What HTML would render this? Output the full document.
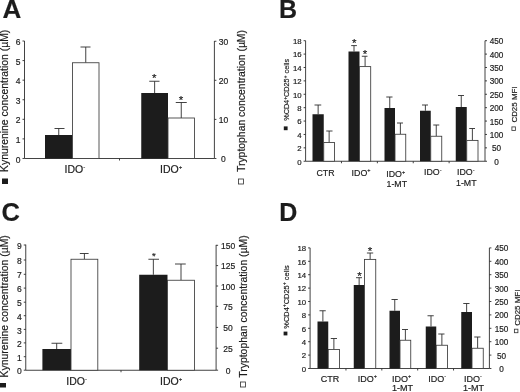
<!DOCTYPE html>
<html><head><meta charset="utf-8"><title>Figure</title>
<style>
html,body{margin:0;padding:0;background:#fff;}
body{width:520px;height:392px;overflow:hidden;}
svg{display:block;filter:grayscale(1);font-family:"Liberation Sans",sans-serif;fill:#1c1c1c;}
text{stroke:#1c1c1c;stroke-width:0.18px;}
</style></head><body>
<svg width="520" height="392" viewBox="0 0 520 392">
<rect x="0" y="0" width="520" height="392" fill="#fff"/>
<text x="2.6" y="17.8" font-size="26" text-anchor="start" font-weight="bold">A</text>
<line x1="24.5" y1="41" x2="24.5" y2="158.5" stroke="#2e2e2e" stroke-width="0.9"/>
<line x1="22.5" y1="41.0" x2="24.5" y2="41.0" stroke="#2e2e2e" stroke-width="0.9"/>
<text x="20.5" y="45.160000000000004" font-size="8.5" text-anchor="end" font-weight="normal">6</text>
<line x1="22.5" y1="60.58" x2="24.5" y2="60.58" stroke="#2e2e2e" stroke-width="0.9"/>
<text x="20.5" y="64.74" font-size="8.5" text-anchor="end" font-weight="normal">5</text>
<line x1="22.5" y1="80.16" x2="24.5" y2="80.16" stroke="#2e2e2e" stroke-width="0.9"/>
<text x="20.5" y="84.32" font-size="8.5" text-anchor="end" font-weight="normal">4</text>
<line x1="22.5" y1="99.74" x2="24.5" y2="99.74" stroke="#2e2e2e" stroke-width="0.9"/>
<text x="20.5" y="103.89999999999999" font-size="8.5" text-anchor="end" font-weight="normal">3</text>
<line x1="22.5" y1="119.32" x2="24.5" y2="119.32" stroke="#2e2e2e" stroke-width="0.9"/>
<text x="20.5" y="123.47999999999999" font-size="8.5" text-anchor="end" font-weight="normal">2</text>
<line x1="22.5" y1="138.89999999999998" x2="24.5" y2="138.89999999999998" stroke="#2e2e2e" stroke-width="0.9"/>
<text x="20.5" y="143.05999999999997" font-size="8.5" text-anchor="end" font-weight="normal">1</text>
<line x1="22.5" y1="158.48" x2="24.5" y2="158.48" stroke="#2e2e2e" stroke-width="0.9"/>
<text x="20.5" y="162.64" font-size="8.5" text-anchor="end" font-weight="normal">0</text>
<line x1="214.4" y1="41" x2="214.4" y2="158.5" stroke="#2e2e2e" stroke-width="0.9"/>
<line x1="214.4" y1="41.25" x2="216.4" y2="41.25" stroke="#2e2e2e" stroke-width="0.9"/>
<text x="223.4" y="44.910000000000004" font-size="8.5" text-anchor="middle" font-weight="normal">30</text>
<line x1="214.4" y1="80.3" x2="216.4" y2="80.3" stroke="#2e2e2e" stroke-width="0.9"/>
<text x="223.4" y="83.96" font-size="8.5" text-anchor="middle" font-weight="normal">20</text>
<line x1="214.4" y1="119.4" x2="216.4" y2="119.4" stroke="#2e2e2e" stroke-width="0.9"/>
<text x="223.4" y="123.06" font-size="8.5" text-anchor="middle" font-weight="normal">10</text>
<line x1="214.4" y1="158.5" x2="216.4" y2="158.5" stroke="#2e2e2e" stroke-width="0.9"/>
<text x="223.4" y="162.16" font-size="8.5" text-anchor="middle" font-weight="normal">0</text>
<line x1="24.5" y1="158.5" x2="214.4" y2="158.5" stroke="#2e2e2e" stroke-width="0.9"/>
<line x1="119.5" y1="158.5" x2="119.5" y2="160.5" stroke="#2e2e2e" stroke-width="0.9"/>
<line x1="58.75" y1="128.5" x2="58.75" y2="135" stroke="#2e2e2e" stroke-width="0.9"/>
<line x1="54.5" y1="128.5" x2="64.5" y2="128.5" stroke="#2e2e2e" stroke-width="0.9"/>
<rect x="45" y="135" width="27.5" height="23.5" fill="#1c1c1c"/>
<line x1="85.75" y1="47" x2="85.75" y2="62.75" stroke="#2e2e2e" stroke-width="0.9"/>
<line x1="80.5" y1="47" x2="90.5" y2="47" stroke="#2e2e2e" stroke-width="0.9"/>
<rect x="72.5" y="62.75" width="26.5" height="95.75" fill="#fff" stroke="#3a3a3a" stroke-width="0.85"/>
<line x1="154.625" y1="81.25" x2="154.625" y2="93" stroke="#2e2e2e" stroke-width="0.9"/>
<line x1="149.25" y1="81.25" x2="159.5" y2="81.25" stroke="#2e2e2e" stroke-width="0.9"/>
<rect x="141.25" y="93" width="26.75" height="65.5" fill="#1c1c1c"/>
<text x="154.25" y="82.21000000000001" font-size="11.5" text-anchor="middle" font-weight="normal">*</text>
<line x1="181.25" y1="102.5" x2="181.25" y2="118" stroke="#2e2e2e" stroke-width="0.9"/>
<line x1="175.75" y1="102.5" x2="186.75" y2="102.5" stroke="#2e2e2e" stroke-width="0.9"/>
<rect x="168.0" y="118" width="26.5" height="40.5" fill="#fff" stroke="#3a3a3a" stroke-width="0.85"/>
<text x="181" y="103.71000000000001" font-size="11.5" text-anchor="middle" font-weight="normal">*</text>
<text x="64.5" y="173" font-size="10.5" text-anchor="start" font-weight="normal">IDO<tspan dy="-4" font-size="6">-</tspan></text>
<text x="160" y="173" font-size="10.5" text-anchor="start" font-weight="normal">IDO<tspan dy="-4" font-size="6">+</tspan></text>
<text x="8.3" y="171.9" font-size="10.2" text-anchor="start" font-weight="normal" transform="rotate(-90 8.3 171.9)" textLength="142.2" lengthAdjust="spacingAndGlyphs">Kynurenine concentration (µM)</text>
<rect x="2" y="178.5" width="6" height="5.5" fill="#1c1c1c"/>
<text x="244.8" y="172" font-size="10.2" text-anchor="start" font-weight="normal" transform="rotate(-90 244.8 172)" textLength="142" lengthAdjust="spacingAndGlyphs">Tryptophan concentration (µM)</text>
<rect x="238.5" y="179" width="5" height="5" fill="#fff" stroke="#3a3a3a" stroke-width="0.85"/>
<text x="1.4" y="220.6" font-size="25.5" text-anchor="start" font-weight="bold">C</text>
<line x1="25.75" y1="244.6" x2="25.75" y2="370.25" stroke="#2e2e2e" stroke-width="0.9"/>
<line x1="23.75" y1="245.0" x2="25.75" y2="245.0" stroke="#2e2e2e" stroke-width="0.9"/>
<text x="21.75" y="249.16" font-size="8.5" text-anchor="end" font-weight="normal">9</text>
<line x1="23.75" y1="260.0" x2="25.75" y2="260.0" stroke="#2e2e2e" stroke-width="0.9"/>
<text x="21.75" y="264.16" font-size="8.5" text-anchor="end" font-weight="normal">8</text>
<line x1="23.75" y1="274.3" x2="25.75" y2="274.3" stroke="#2e2e2e" stroke-width="0.9"/>
<text x="21.75" y="278.46000000000004" font-size="8.5" text-anchor="end" font-weight="normal">7</text>
<line x1="23.75" y1="288.1" x2="25.75" y2="288.1" stroke="#2e2e2e" stroke-width="0.9"/>
<text x="21.75" y="292.26000000000005" font-size="8.5" text-anchor="end" font-weight="normal">6</text>
<line x1="23.75" y1="302.2" x2="25.75" y2="302.2" stroke="#2e2e2e" stroke-width="0.9"/>
<text x="21.75" y="306.36" font-size="8.5" text-anchor="end" font-weight="normal">5</text>
<line x1="23.75" y1="315.7" x2="25.75" y2="315.7" stroke="#2e2e2e" stroke-width="0.9"/>
<text x="21.75" y="319.86" font-size="8.5" text-anchor="end" font-weight="normal">4</text>
<line x1="23.75" y1="329.4" x2="25.75" y2="329.4" stroke="#2e2e2e" stroke-width="0.9"/>
<text x="21.75" y="333.56" font-size="8.5" text-anchor="end" font-weight="normal">3</text>
<line x1="23.75" y1="342.9" x2="25.75" y2="342.9" stroke="#2e2e2e" stroke-width="0.9"/>
<text x="21.75" y="347.06" font-size="8.5" text-anchor="end" font-weight="normal">2</text>
<line x1="23.75" y1="356.7" x2="25.75" y2="356.7" stroke="#2e2e2e" stroke-width="0.9"/>
<text x="21.75" y="360.86" font-size="8.5" text-anchor="end" font-weight="normal">1</text>
<line x1="23.75" y1="370.2" x2="25.75" y2="370.2" stroke="#2e2e2e" stroke-width="0.9"/>
<text x="21.75" y="374.36" font-size="8.5" text-anchor="end" font-weight="normal">0</text>
<line x1="216.1" y1="244.9" x2="216.1" y2="370.25" stroke="#2e2e2e" stroke-width="0.9"/>
<line x1="216.1" y1="245.3" x2="218.1" y2="245.3" stroke="#2e2e2e" stroke-width="0.9"/>
<text x="228.1" y="249.06" font-size="8.5" text-anchor="middle" font-weight="normal">150</text>
<line x1="216.1" y1="265.6" x2="218.1" y2="265.6" stroke="#2e2e2e" stroke-width="0.9"/>
<text x="228.1" y="269.36" font-size="8.5" text-anchor="middle" font-weight="normal">125</text>
<line x1="216.1" y1="286.0" x2="218.1" y2="286.0" stroke="#2e2e2e" stroke-width="0.9"/>
<text x="228.1" y="289.76" font-size="8.5" text-anchor="middle" font-weight="normal">100</text>
<line x1="216.1" y1="306.3" x2="218.1" y2="306.3" stroke="#2e2e2e" stroke-width="0.9"/>
<text x="228.1" y="310.06" font-size="8.5" text-anchor="middle" font-weight="normal">75</text>
<line x1="216.1" y1="327.4" x2="218.1" y2="327.4" stroke="#2e2e2e" stroke-width="0.9"/>
<text x="228.1" y="331.15999999999997" font-size="8.5" text-anchor="middle" font-weight="normal">50</text>
<line x1="216.1" y1="348.2" x2="218.1" y2="348.2" stroke="#2e2e2e" stroke-width="0.9"/>
<text x="228.1" y="351.96" font-size="8.5" text-anchor="middle" font-weight="normal">25</text>
<line x1="216.1" y1="370.2" x2="218.1" y2="370.2" stroke="#2e2e2e" stroke-width="0.9"/>
<text x="228.1" y="373.96" font-size="8.5" text-anchor="middle" font-weight="normal">0</text>
<line x1="25.75" y1="370.25" x2="216.1" y2="370.25" stroke="#2e2e2e" stroke-width="0.9"/>
<line x1="121" y1="370.25" x2="121" y2="372.25" stroke="#2e2e2e" stroke-width="0.9"/>
<line x1="56.7" y1="343.25" x2="56.7" y2="349" stroke="#2e2e2e" stroke-width="0.9"/>
<line x1="51.5" y1="343.25" x2="62.3" y2="343.25" stroke="#2e2e2e" stroke-width="0.9"/>
<rect x="42.4" y="349" width="28.6" height="21.25" fill="#1c1c1c"/>
<line x1="84.4" y1="253.5" x2="84.4" y2="259.25" stroke="#2e2e2e" stroke-width="0.9"/>
<line x1="79.8" y1="253.5" x2="88.6" y2="253.5" stroke="#2e2e2e" stroke-width="0.9"/>
<rect x="71.0" y="259.25" width="26.799999999999997" height="111.0" fill="#fff" stroke="#3a3a3a" stroke-width="0.85"/>
<line x1="153.35" y1="259.25" x2="153.35" y2="274.75" stroke="#2e2e2e" stroke-width="0.9"/>
<line x1="148.4" y1="259.25" x2="159" y2="259.25" stroke="#2e2e2e" stroke-width="0.9"/>
<rect x="139.2" y="274.75" width="28.30000000000001" height="95.5" fill="#1c1c1c"/>
<text x="153.9" y="259.13" font-size="9.5" text-anchor="middle" font-weight="normal">*</text>
<line x1="181.0" y1="264" x2="181.0" y2="280.25" stroke="#2e2e2e" stroke-width="0.9"/>
<line x1="175" y1="264" x2="185.75" y2="264" stroke="#2e2e2e" stroke-width="0.9"/>
<rect x="167.5" y="280.25" width="27.0" height="90.0" fill="#fff" stroke="#3a3a3a" stroke-width="0.85"/>
<text x="66.25" y="385" font-size="10.5" text-anchor="start" font-weight="normal">IDO<tspan dy="-4" font-size="6">-</tspan></text>
<text x="160" y="384.5" font-size="10.5" text-anchor="start" font-weight="normal">IDO<tspan dy="-4" font-size="6">+</tspan></text>
<text x="8.0" y="377.4" font-size="10.2" text-anchor="start" font-weight="normal" transform="rotate(-90 8.0 377.4)" textLength="142.2" lengthAdjust="spacingAndGlyphs">Kynurenine concentration (µM)</text>
<rect x="-0.5" y="383" width="6.5" height="4.5" fill="#1c1c1c"/>
<text x="247.2" y="377.75" font-size="10.2" text-anchor="start" font-weight="normal" transform="rotate(-90 247.2 377.75)" textLength="142.5" lengthAdjust="spacingAndGlyphs">Tryptophan concentration (µM)</text>
<rect x="240.5" y="382" width="5" height="5" fill="#fff" stroke="#3a3a3a" stroke-width="0.85"/>
<text x="279.1" y="17.85" font-size="25" text-anchor="start" font-weight="bold">B</text>
<line x1="305.6" y1="40.7" x2="305.6" y2="161.25" stroke="#2e2e2e" stroke-width="0.9"/>
<line x1="303.6" y1="40.7" x2="305.6" y2="40.7" stroke="#2e2e2e" stroke-width="0.9"/>
<text x="301.6" y="44.008" font-size="7.8" text-anchor="end" font-weight="normal">18</text>
<line x1="303.6" y1="54.09444444444445" x2="305.6" y2="54.09444444444445" stroke="#2e2e2e" stroke-width="0.9"/>
<text x="301.6" y="57.40244444444445" font-size="7.8" text-anchor="end" font-weight="normal">16</text>
<line x1="303.6" y1="67.4888888888889" x2="305.6" y2="67.4888888888889" stroke="#2e2e2e" stroke-width="0.9"/>
<text x="301.6" y="70.7968888888889" font-size="7.8" text-anchor="end" font-weight="normal">14</text>
<line x1="303.6" y1="80.88333333333333" x2="305.6" y2="80.88333333333333" stroke="#2e2e2e" stroke-width="0.9"/>
<text x="301.6" y="84.19133333333332" font-size="7.8" text-anchor="end" font-weight="normal">12</text>
<line x1="303.6" y1="94.27777777777777" x2="305.6" y2="94.27777777777777" stroke="#2e2e2e" stroke-width="0.9"/>
<text x="301.6" y="97.58577777777776" font-size="7.8" text-anchor="end" font-weight="normal">10</text>
<line x1="303.6" y1="107.67222222222222" x2="305.6" y2="107.67222222222222" stroke="#2e2e2e" stroke-width="0.9"/>
<text x="301.6" y="110.98022222222221" font-size="7.8" text-anchor="end" font-weight="normal">8</text>
<line x1="303.6" y1="121.06666666666666" x2="305.6" y2="121.06666666666666" stroke="#2e2e2e" stroke-width="0.9"/>
<text x="301.6" y="124.37466666666666" font-size="7.8" text-anchor="end" font-weight="normal">6</text>
<line x1="303.6" y1="134.4611111111111" x2="305.6" y2="134.4611111111111" stroke="#2e2e2e" stroke-width="0.9"/>
<text x="301.6" y="137.7691111111111" font-size="7.8" text-anchor="end" font-weight="normal">4</text>
<line x1="303.6" y1="147.85555555555555" x2="305.6" y2="147.85555555555555" stroke="#2e2e2e" stroke-width="0.9"/>
<text x="301.6" y="151.16355555555555" font-size="7.8" text-anchor="end" font-weight="normal">2</text>
<line x1="303.6" y1="161.25" x2="305.6" y2="161.25" stroke="#2e2e2e" stroke-width="0.9"/>
<text x="301.6" y="164.558" font-size="7.8" text-anchor="end" font-weight="normal">0</text>
<line x1="485" y1="40.7" x2="485" y2="161.25" stroke="#2e2e2e" stroke-width="0.9"/>
<line x1="485" y1="40.7" x2="487" y2="40.7" stroke="#2e2e2e" stroke-width="0.9"/>
<text x="496.6" y="44.152" font-size="8.2" text-anchor="middle" font-weight="normal">450</text>
<line x1="485" y1="54.09444444444445" x2="487" y2="54.09444444444445" stroke="#2e2e2e" stroke-width="0.9"/>
<text x="496.6" y="57.54644444444445" font-size="8.2" text-anchor="middle" font-weight="normal">400</text>
<line x1="485" y1="67.4888888888889" x2="487" y2="67.4888888888889" stroke="#2e2e2e" stroke-width="0.9"/>
<text x="496.6" y="70.94088888888889" font-size="8.2" text-anchor="middle" font-weight="normal">350</text>
<line x1="485" y1="80.88333333333333" x2="487" y2="80.88333333333333" stroke="#2e2e2e" stroke-width="0.9"/>
<text x="496.6" y="84.33533333333332" font-size="8.2" text-anchor="middle" font-weight="normal">300</text>
<line x1="485" y1="94.27777777777777" x2="487" y2="94.27777777777777" stroke="#2e2e2e" stroke-width="0.9"/>
<text x="496.6" y="97.72977777777777" font-size="8.2" text-anchor="middle" font-weight="normal">250</text>
<line x1="485" y1="107.67222222222222" x2="487" y2="107.67222222222222" stroke="#2e2e2e" stroke-width="0.9"/>
<text x="496.6" y="111.12422222222222" font-size="8.2" text-anchor="middle" font-weight="normal">200</text>
<line x1="485" y1="121.06666666666666" x2="487" y2="121.06666666666666" stroke="#2e2e2e" stroke-width="0.9"/>
<text x="496.6" y="124.51866666666666" font-size="8.2" text-anchor="middle" font-weight="normal">150</text>
<line x1="485" y1="134.4611111111111" x2="487" y2="134.4611111111111" stroke="#2e2e2e" stroke-width="0.9"/>
<text x="496.6" y="137.9131111111111" font-size="8.2" text-anchor="middle" font-weight="normal">100</text>
<line x1="485" y1="147.85555555555555" x2="487" y2="147.85555555555555" stroke="#2e2e2e" stroke-width="0.9"/>
<text x="496.6" y="151.30755555555555" font-size="8.2" text-anchor="middle" font-weight="normal">50</text>
<line x1="485" y1="161.25" x2="487" y2="161.25" stroke="#2e2e2e" stroke-width="0.9"/>
<text x="496.6" y="164.702" font-size="8.2" text-anchor="middle" font-weight="normal">0</text>
<line x1="305.6" y1="161.25" x2="485" y2="161.25" stroke="#2e2e2e" stroke-width="0.9"/>
<line x1="341.48" y1="161.25" x2="341.48" y2="163.25" stroke="#2e2e2e" stroke-width="0.9"/>
<line x1="377.36" y1="161.25" x2="377.36" y2="163.25" stroke="#2e2e2e" stroke-width="0.9"/>
<line x1="413.24" y1="161.25" x2="413.24" y2="163.25" stroke="#2e2e2e" stroke-width="0.9"/>
<line x1="449.12" y1="161.25" x2="449.12" y2="163.25" stroke="#2e2e2e" stroke-width="0.9"/>
<line x1="318.125" y1="105" x2="318.125" y2="114.25" stroke="#2e2e2e" stroke-width="0.9"/>
<line x1="314.5" y1="105" x2="321.25" y2="105" stroke="#2e2e2e" stroke-width="0.9"/>
<rect x="312.5" y="114.25" width="11.25" height="47.0" fill="#1c1c1c"/>
<line x1="329.125" y1="131" x2="329.125" y2="142.5" stroke="#2e2e2e" stroke-width="0.9"/>
<line x1="326.25" y1="131" x2="332.5" y2="131" stroke="#2e2e2e" stroke-width="0.9"/>
<rect x="323.75" y="142.5" width="10.75" height="18.75" fill="#fff" stroke="#3a3a3a" stroke-width="0.85"/>
<line x1="354.0" y1="45.6" x2="354.0" y2="51.5" stroke="#2e2e2e" stroke-width="0.9"/>
<line x1="351.2" y1="45.6" x2="356.9" y2="45.6" stroke="#2e2e2e" stroke-width="0.9"/>
<rect x="348.5" y="51.5" width="11.0" height="109.75" fill="#1c1c1c"/>
<text x="354.3" y="47.31" font-size="11.5" text-anchor="middle" font-weight="normal">*</text>
<line x1="365.1" y1="56.25" x2="365.1" y2="66.6" stroke="#2e2e2e" stroke-width="0.9"/>
<line x1="361.8" y1="56.25" x2="367.5" y2="56.25" stroke="#2e2e2e" stroke-width="0.9"/>
<rect x="359.5" y="66.6" width="11.199999999999989" height="94.65" fill="#fff" stroke="#3a3a3a" stroke-width="0.85"/>
<text x="365" y="58.410000000000004" font-size="11.5" text-anchor="middle" font-weight="normal">*</text>
<line x1="389.75" y1="97" x2="389.75" y2="108" stroke="#2e2e2e" stroke-width="0.9"/>
<line x1="386.25" y1="97" x2="392.5" y2="97" stroke="#2e2e2e" stroke-width="0.9"/>
<rect x="384.5" y="108" width="10.5" height="53.25" fill="#1c1c1c"/>
<line x1="400.375" y1="123" x2="400.375" y2="134.25" stroke="#2e2e2e" stroke-width="0.9"/>
<line x1="397" y1="123" x2="403" y2="123" stroke="#2e2e2e" stroke-width="0.9"/>
<rect x="395.0" y="134.25" width="10.75" height="27.0" fill="#fff" stroke="#3a3a3a" stroke-width="0.85"/>
<line x1="425.375" y1="105" x2="425.375" y2="110.75" stroke="#2e2e2e" stroke-width="0.9"/>
<line x1="422" y1="105" x2="428" y2="105" stroke="#2e2e2e" stroke-width="0.9"/>
<rect x="420" y="110.75" width="10.75" height="50.5" fill="#1c1c1c"/>
<line x1="436.25" y1="125" x2="436.25" y2="136.25" stroke="#2e2e2e" stroke-width="0.9"/>
<line x1="433.25" y1="125" x2="439.25" y2="125" stroke="#2e2e2e" stroke-width="0.9"/>
<rect x="430.75" y="136.25" width="11.0" height="25.0" fill="#fff" stroke="#3a3a3a" stroke-width="0.85"/>
<line x1="461.25" y1="95.5" x2="461.25" y2="107" stroke="#2e2e2e" stroke-width="0.9"/>
<line x1="458" y1="95.5" x2="464" y2="95.5" stroke="#2e2e2e" stroke-width="0.9"/>
<rect x="455.75" y="107" width="11.0" height="54.25" fill="#1c1c1c"/>
<line x1="472.375" y1="128.5" x2="472.375" y2="140.4" stroke="#2e2e2e" stroke-width="0.9"/>
<line x1="469.25" y1="128.5" x2="475" y2="128.5" stroke="#2e2e2e" stroke-width="0.9"/>
<rect x="466.75" y="140.4" width="11.25" height="20.849999999999994" fill="#fff" stroke="#3a3a3a" stroke-width="0.85"/>
<text x="316.5" y="175.7" font-size="8.8" text-anchor="start" font-weight="normal">CTR</text>
<text x="351.6" y="175.5" font-size="8.8" text-anchor="start" font-weight="normal">IDO<tspan dy="-3.6" font-size="5.5">+</tspan></text>
<text x="386.3" y="177.2" font-size="8.8" text-anchor="start" font-weight="normal">IDO<tspan dy="-3.6" font-size="5.5">+</tspan></text>
<text x="386.5" y="186.9" font-size="8.8" text-anchor="start" font-weight="normal">1-MT</text>
<text x="424" y="175.2" font-size="8.8" text-anchor="start" font-weight="normal">IDO<tspan dy="-3.6" font-size="5.5">-</tspan></text>
<text x="457" y="175.2" font-size="8.8" text-anchor="start" font-weight="normal">IDO<tspan dy="-3.6" font-size="5.5">-</tspan></text>
<text x="456" y="185.9" font-size="8.8" text-anchor="start" font-weight="normal">1-MT</text>
<text x="289.3" y="120.8" font-size="7.25" text-anchor="start" font-weight="normal" transform="rotate(-90 289.3 120.8)">%CD4<tspan dy="-2.6" font-size="5">+</tspan><tspan dy="2.6">CD25</tspan><tspan dy="-2.6" font-size="5">+</tspan><tspan dy="2.6"> cells</tspan></text>
<rect x="283.8" y="126.4" width="3.8" height="3.8" fill="#1c1c1c"/>
<text x="516.8" y="122.6" font-size="7.8" text-anchor="start" font-weight="normal" transform="rotate(-90 516.8 122.6)" textLength="36.2" lengthAdjust="spacingAndGlyphs">CD25 MFI</text>
<rect x="511.9" y="126.9" width="3.5" height="3.5" fill="#fff" stroke="#3a3a3a" stroke-width="0.85"/>
<text x="279.3" y="220.6" font-size="25" text-anchor="start" font-weight="bold">D</text>
<line x1="310.1" y1="247.9" x2="310.1" y2="368.5" stroke="#2e2e2e" stroke-width="0.9"/>
<line x1="308.1" y1="247.9" x2="310.1" y2="247.9" stroke="#2e2e2e" stroke-width="0.9"/>
<text x="306.1" y="251.208" font-size="7.8" text-anchor="end" font-weight="normal">18</text>
<line x1="308.1" y1="261.3" x2="310.1" y2="261.3" stroke="#2e2e2e" stroke-width="0.9"/>
<text x="306.1" y="264.608" font-size="7.8" text-anchor="end" font-weight="normal">16</text>
<line x1="308.1" y1="274.7" x2="310.1" y2="274.7" stroke="#2e2e2e" stroke-width="0.9"/>
<text x="306.1" y="278.008" font-size="7.8" text-anchor="end" font-weight="normal">14</text>
<line x1="308.1" y1="288.1" x2="310.1" y2="288.1" stroke="#2e2e2e" stroke-width="0.9"/>
<text x="306.1" y="291.408" font-size="7.8" text-anchor="end" font-weight="normal">12</text>
<line x1="308.1" y1="301.5" x2="310.1" y2="301.5" stroke="#2e2e2e" stroke-width="0.9"/>
<text x="306.1" y="304.808" font-size="7.8" text-anchor="end" font-weight="normal">10</text>
<line x1="308.1" y1="314.9" x2="310.1" y2="314.9" stroke="#2e2e2e" stroke-width="0.9"/>
<text x="306.1" y="318.20799999999997" font-size="7.8" text-anchor="end" font-weight="normal">8</text>
<line x1="308.1" y1="328.3" x2="310.1" y2="328.3" stroke="#2e2e2e" stroke-width="0.9"/>
<text x="306.1" y="331.608" font-size="7.8" text-anchor="end" font-weight="normal">6</text>
<line x1="308.1" y1="341.7" x2="310.1" y2="341.7" stroke="#2e2e2e" stroke-width="0.9"/>
<text x="306.1" y="345.008" font-size="7.8" text-anchor="end" font-weight="normal">4</text>
<line x1="308.1" y1="355.1" x2="310.1" y2="355.1" stroke="#2e2e2e" stroke-width="0.9"/>
<text x="306.1" y="358.408" font-size="7.8" text-anchor="end" font-weight="normal">2</text>
<line x1="308.1" y1="368.5" x2="310.1" y2="368.5" stroke="#2e2e2e" stroke-width="0.9"/>
<text x="306.1" y="371.808" font-size="7.8" text-anchor="end" font-weight="normal">0</text>
<line x1="489.4" y1="247.9" x2="489.4" y2="368.5" stroke="#2e2e2e" stroke-width="0.9"/>
<line x1="489.4" y1="247.9" x2="491.4" y2="247.9" stroke="#2e2e2e" stroke-width="0.9"/>
<text x="501.59999999999997" y="251.352" font-size="8.2" text-anchor="middle" font-weight="normal">450</text>
<line x1="489.4" y1="261.3" x2="491.4" y2="261.3" stroke="#2e2e2e" stroke-width="0.9"/>
<text x="501.59999999999997" y="264.752" font-size="8.2" text-anchor="middle" font-weight="normal">400</text>
<line x1="489.4" y1="274.7" x2="491.4" y2="274.7" stroke="#2e2e2e" stroke-width="0.9"/>
<text x="501.59999999999997" y="278.152" font-size="8.2" text-anchor="middle" font-weight="normal">350</text>
<line x1="489.4" y1="288.1" x2="491.4" y2="288.1" stroke="#2e2e2e" stroke-width="0.9"/>
<text x="501.59999999999997" y="291.552" font-size="8.2" text-anchor="middle" font-weight="normal">300</text>
<line x1="489.4" y1="301.5" x2="491.4" y2="301.5" stroke="#2e2e2e" stroke-width="0.9"/>
<text x="501.59999999999997" y="304.952" font-size="8.2" text-anchor="middle" font-weight="normal">250</text>
<line x1="489.4" y1="314.9" x2="491.4" y2="314.9" stroke="#2e2e2e" stroke-width="0.9"/>
<text x="501.59999999999997" y="318.352" font-size="8.2" text-anchor="middle" font-weight="normal">200</text>
<line x1="489.4" y1="328.3" x2="491.4" y2="328.3" stroke="#2e2e2e" stroke-width="0.9"/>
<text x="501.59999999999997" y="331.752" font-size="8.2" text-anchor="middle" font-weight="normal">150</text>
<line x1="489.4" y1="341.7" x2="491.4" y2="341.7" stroke="#2e2e2e" stroke-width="0.9"/>
<text x="501.59999999999997" y="345.152" font-size="8.2" text-anchor="middle" font-weight="normal">100</text>
<line x1="489.4" y1="355.1" x2="491.4" y2="355.1" stroke="#2e2e2e" stroke-width="0.9"/>
<text x="501.59999999999997" y="358.552" font-size="8.2" text-anchor="middle" font-weight="normal">50</text>
<line x1="489.4" y1="368.5" x2="491.4" y2="368.5" stroke="#2e2e2e" stroke-width="0.9"/>
<text x="501.59999999999997" y="371.952" font-size="8.2" text-anchor="middle" font-weight="normal">0</text>
<line x1="310.1" y1="368.5" x2="489.4" y2="368.5" stroke="#2e2e2e" stroke-width="0.9"/>
<line x1="345.96000000000004" y1="368.5" x2="345.96000000000004" y2="370.5" stroke="#2e2e2e" stroke-width="0.9"/>
<line x1="381.82" y1="368.5" x2="381.82" y2="370.5" stroke="#2e2e2e" stroke-width="0.9"/>
<line x1="417.68" y1="368.5" x2="417.68" y2="370.5" stroke="#2e2e2e" stroke-width="0.9"/>
<line x1="453.53999999999996" y1="368.5" x2="453.53999999999996" y2="370.5" stroke="#2e2e2e" stroke-width="0.9"/>
<line x1="322.875" y1="310.75" x2="322.875" y2="321.5" stroke="#2e2e2e" stroke-width="0.9"/>
<line x1="319.5" y1="310.75" x2="325.75" y2="310.75" stroke="#2e2e2e" stroke-width="0.9"/>
<rect x="317.5" y="321.5" width="10.75" height="47.0" fill="#1c1c1c"/>
<line x1="333.875" y1="338.5" x2="333.875" y2="349.5" stroke="#2e2e2e" stroke-width="0.9"/>
<line x1="330.75" y1="338.5" x2="337" y2="338.5" stroke="#2e2e2e" stroke-width="0.9"/>
<rect x="328.25" y="349.5" width="11.25" height="19.0" fill="#fff" stroke="#3a3a3a" stroke-width="0.85"/>
<line x1="359.125" y1="277.7" x2="359.125" y2="285" stroke="#2e2e2e" stroke-width="0.9"/>
<line x1="356" y1="277.7" x2="362" y2="277.7" stroke="#2e2e2e" stroke-width="0.9"/>
<rect x="353.75" y="285" width="10.75" height="83.5" fill="#1c1c1c"/>
<text x="359.4" y="279.71" font-size="11.5" text-anchor="middle" font-weight="normal">*</text>
<line x1="370.125" y1="253" x2="370.125" y2="259.4" stroke="#2e2e2e" stroke-width="0.9"/>
<line x1="366.9" y1="253" x2="373.2" y2="253" stroke="#2e2e2e" stroke-width="0.9"/>
<rect x="364.5" y="259.4" width="11.25" height="109.10000000000002" fill="#fff" stroke="#3a3a3a" stroke-width="0.85"/>
<text x="370" y="255.21" font-size="11.5" text-anchor="middle" font-weight="normal">*</text>
<line x1="394.75" y1="299.5" x2="394.75" y2="310.75" stroke="#2e2e2e" stroke-width="0.9"/>
<line x1="391.5" y1="299.5" x2="397.75" y2="299.5" stroke="#2e2e2e" stroke-width="0.9"/>
<rect x="389.5" y="310.75" width="10.5" height="57.75" fill="#1c1c1c"/>
<line x1="405.375" y1="329.5" x2="405.375" y2="340.25" stroke="#2e2e2e" stroke-width="0.9"/>
<line x1="402" y1="329.5" x2="408" y2="329.5" stroke="#2e2e2e" stroke-width="0.9"/>
<rect x="400.0" y="340.25" width="10.75" height="28.25" fill="#fff" stroke="#3a3a3a" stroke-width="0.85"/>
<line x1="431.0" y1="315.75" x2="431.0" y2="326.5" stroke="#2e2e2e" stroke-width="0.9"/>
<line x1="427.5" y1="315.75" x2="433.75" y2="315.75" stroke="#2e2e2e" stroke-width="0.9"/>
<rect x="425.75" y="326.5" width="10.5" height="42.0" fill="#1c1c1c"/>
<line x1="441.875" y1="334" x2="441.875" y2="345.25" stroke="#2e2e2e" stroke-width="0.9"/>
<line x1="438.25" y1="334" x2="444.5" y2="334" stroke="#2e2e2e" stroke-width="0.9"/>
<rect x="436.25" y="345.25" width="11.25" height="23.25" fill="#fff" stroke="#3a3a3a" stroke-width="0.85"/>
<line x1="466.625" y1="303.5" x2="466.625" y2="312" stroke="#2e2e2e" stroke-width="0.9"/>
<line x1="463.25" y1="303.5" x2="469.5" y2="303.5" stroke="#2e2e2e" stroke-width="0.9"/>
<rect x="461.25" y="312" width="10.75" height="56.5" fill="#1c1c1c"/>
<line x1="477.625" y1="337" x2="477.625" y2="348.25" stroke="#2e2e2e" stroke-width="0.9"/>
<line x1="474.25" y1="337" x2="480.5" y2="337" stroke="#2e2e2e" stroke-width="0.9"/>
<rect x="472.0" y="348.25" width="11.25" height="20.25" fill="#fff" stroke="#3a3a3a" stroke-width="0.85"/>
<text x="320.8" y="381.9" font-size="9" text-anchor="start" font-weight="normal">CTR</text>
<text x="357.7" y="381.9" font-size="9" text-anchor="start" font-weight="normal">IDO<tspan dy="-3.6" font-size="5.5">+</tspan></text>
<text x="391.9" y="381.6" font-size="9" text-anchor="start" font-weight="normal">IDO<tspan dy="-3.6" font-size="5.5">+</tspan></text>
<text x="391.9" y="391.3" font-size="9" text-anchor="start" font-weight="normal">1-MT</text>
<text x="428.2" y="381.6" font-size="9" text-anchor="start" font-weight="normal">IDO<tspan dy="-3.6" font-size="5.5">-</tspan></text>
<text x="464" y="381.6" font-size="9" text-anchor="start" font-weight="normal">IDO<tspan dy="-3.6" font-size="5.5">-</tspan></text>
<text x="463" y="391.3" font-size="9" text-anchor="start" font-weight="normal">1-MT</text>
<text x="289.0" y="328.7" font-size="7.45" text-anchor="start" font-weight="normal" transform="rotate(-90 289.0 328.7)">%CD4<tspan dy="-2.6" font-size="5">+</tspan><tspan dy="2.6">CD25</tspan><tspan dy="-2.6" font-size="5">+</tspan><tspan dy="2.6"> cells</tspan></text>
<rect x="283.6" y="331.6" width="3.8" height="3.8" fill="#1c1c1c"/>
<text x="519.6" y="325.8" font-size="7.8" text-anchor="start" font-weight="normal" transform="rotate(-90 519.6 325.8)" textLength="36.2" lengthAdjust="spacingAndGlyphs">CD25 MFI</text>
<rect x="514.4" y="329.2" width="3.5" height="3.5" fill="#fff" stroke="#3a3a3a" stroke-width="0.85"/>
</svg>
</body></html>
